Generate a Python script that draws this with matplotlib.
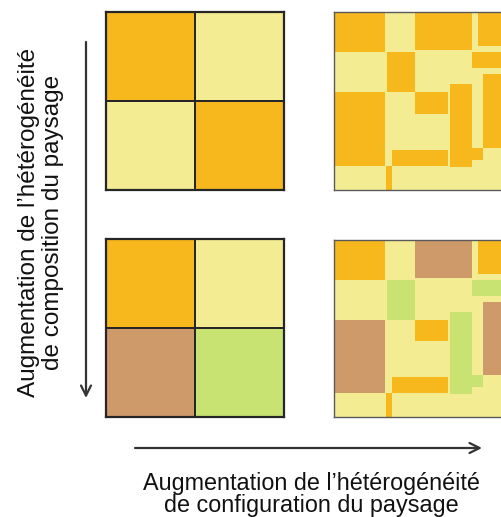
import matplotlib.pyplot as plt
from matplotlib.patches import Rectangle
from matplotlib.colors import ListedColormap
import numpy as np

# land cover classes: 0 orange, 1 pale yellow, 2 brown, 3 green
cover_colors = ['#F6B81D', '#F4EC93', '#CF9A6A', '#C8E372']

# simple landscapes (2 x 2 cells, row 0 at the top)
simple_low = [[0, 1],
              [1, 0]]
simple_high = [[0, 1],
               [2, 3]]

# complex landscapes: patches on a pale yellow matrix, panel units 0-178
patch_x = [0, 81, 144, 53, 138, 149, 116, 138, 0, 81, 58, 52]
patch_y = [0, 0, 0, 40, 40, 62, 72, 136, 80, 80, 138, 154]
patch_w = [51, 57, 34, 28, 40, 29, 22, 11, 51, 33, 56, 6]
patch_h = [40, 38, 34, 40, 16, 74, 83, 12, 74, 22, 16, 24]
patch_cover_low = [0, 0, 0, 0, 0, 0, 0, 0, 0, 0, 0, 0]
patch_cover_high = [0, 2, 0, 3, 3, 2, 3, 3, 2, 0, 0, 0]
panel_size = 178

label_config = "Augmentation de l\u2019hétérogénéité\nde configuration du paysage"
label_compo = "Augmentation de l\u2019hétérogénéité\nde composition du paysage"

W, H = 502, 517
fig = plt.figure(figsize=(W / 100, H / 100), dpi=100)
plt.rcParams['font.family'] = ['Liberation Sans', 'DejaVu Sans']

# overlay in pixel units for arrows and labels
bg = fig.add_axes([0, 0, 1, 1])
bg.set_xlim(0, W)
bg.set_ylim(H, 0)
bg.axis('off')


def px_axes(x0, y0, w, h):
    return fig.add_axes([x0 / W, (H - y0 - h) / H, w / W, h / H])


def draw_simple(ax, grid):
    cmap = ListedColormap(cover_colors)
    ax.pcolormesh(np.array(grid), cmap=cmap, vmin=-0.5, vmax=3.5,
                  edgecolors='#262626', linewidth=1.4)
    ax.set_ylim(2, 0)
    ax.set_xticks([])
    ax.set_yticks([])
    for s in ax.spines.values():
        s.set_color('#262626')
        s.set_linewidth(1.6)


def draw_complex(ax, covers):
    ax.set_facecolor(cover_colors[1])
    for x, y, w, h, c in zip(patch_x, patch_y, patch_w, patch_h, covers):
        ax.add_patch(Rectangle((x, y), w, h, facecolor=cover_colors[c],
                               edgecolor='none'))
    ax.set_xlim(0, panel_size)
    ax.set_ylim(panel_size, 0)
    ax.set_xticks([])
    ax.set_yticks([])
    for s in ax.spines.values():
        s.set_color('#5a5a5a')
        s.set_linewidth(1.0)


draw_simple(px_axes(106, 12, 178, 178), simple_low)
draw_simple(px_axes(106, 239, 178, 178), simple_high)
draw_complex(px_axes(334, 12, 178, 178), patch_cover_low)
draw_complex(px_axes(334, 240, 178, 177), patch_cover_high)

arrow = dict(arrowstyle='->', color='#333333', lw=1.6, mutation_scale=18,
             shrinkA=0, shrinkB=0)
bg.annotate('', xy=(86, 398), xytext=(86, 42), arrowprops=arrow)
bg.annotate('', xy=(482, 448), xytext=(135, 448), arrowprops=arrow)

bg.text(41, 222, label_compo, rotation=90, ha='center', va='center',
        multialignment='center', fontsize=17.5, linespacing=1.12, color='#111111')
bg.text(311, 517, label_config, ha='center', va='bottom',
        multialignment='center', fontsize=16.8, linespacing=0.92, color='#111111')

fig.savefig('out.png', dpi=100)
